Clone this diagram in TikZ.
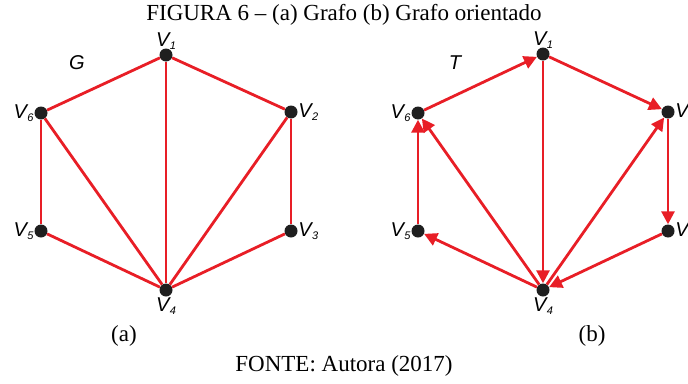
\documentclass[tikz,border=0pt]{standalone}
\usepackage{fontspec}
\setmainfont{Liberation Serif}
\setsansfont{Liberation Sans}
\usepackage{xcolor}
\usetikzlibrary{arrows.meta,positioning}
\definecolor{edgered}{RGB}{232,30,38}
\newcommand{\vname}[1]{V\kern0.5pt\raisebox{-3pt}{\fontsize{11}{11}\selectfont #1}}

\begin{document}
\begin{tikzpicture}[x=1pt,y=-1pt,
  vert/.style={circle,fill=black!88,inner sep=0pt,minimum size=13pt},
  lbl/.style={font=\sffamily\itshape\fontsize{20}{20}\selectfont,inner sep=0.5pt},
  gname/.style={font=\sffamily\itshape\fontsize{20}{20}\selectfont},
  legenda/.style={font=\fontsize{23}{23}\selectfont},
  edge/.style={draw=edgered,line width=2.8pt},
  arc/.style={edge,-{Triangle[length=13pt,width=13pt]}}]
\useasboundingbox (0,0) rectangle (688,383);
% (a) grafo
\node[vert] (a1) at (166,55) {};
\node[vert] (a2) at (291,112) {};
\node[vert] (a3) at (291,231) {};
\node[vert] (a4) at (166,290) {};
\node[vert] (a5) at (41,231) {};
\node[vert] (a6) at (41,113) {};
\foreach \u/\v in {1/2,2/3,3/4,4/5,5/6,6/1,1/4,2/4,6/4}
  \draw[edge] (a\u) -- (a\v);
\node[lbl,above=-2pt of a1] (la1) {\vname{1}};
\node[lbl,right=0pt of a2] (la2) {\vname{2}};
\node[lbl,right=0pt of a3] (la3) {\vname{3}};
\node[lbl,below=0pt of a4] (la4) {\vname{4}};
\node[lbl,left=0pt of a5] (la5) {\vname{5}};
\node[lbl,left=0pt of a6] (la6) {\vname{6}};
\node[gname] (g) at (77,63) {G};
% (b) grafo orientado
\node[vert] (b1) at (543,54) {};
\node[vert] (b2) at (668,112) {};
\node[vert] (b3) at (668,231) {};
\node[vert] (b4) at (543,290) {};
\node[vert] (b5) at (418,231) {};
\node[vert] (b6) at (418,113) {};
\foreach \u/\v in {6/1,1/2,2/3,3/4,1/4,4/2,4/5,5/6,4/6}
  \draw[arc] (b\u) -- (b\v);
\node[lbl,above=-2pt of b1] (lb1) {\vname{1}};
\node[lbl,right=0pt of b2] (lb2) {\vname{2}};
\node[lbl,right=0pt of b3] (lb3) {\vname{3}};
\node[lbl,below=0pt of b4] (lb4) {\vname{4}};
\node[lbl,left=0pt of b5] (lb5) {\vname{5}};
\node[lbl,left=0pt of b6] (lb6) {\vname{6}};
\node[gname] (t) at (455,63) {T};
% legendas
\node[legenda] (titulo) at (344,15) {FIGURA 6 -- (a) Grafo (b) Grafo orientado};
\node[legenda] (capa) at (124,336) {(a)};
\node[legenda] (capb) at (592,336) {(b)};
\node[legenda] (fonte) at (344,366) {FONTE: Autora (2017)};
\end{tikzpicture}
\end{document}
